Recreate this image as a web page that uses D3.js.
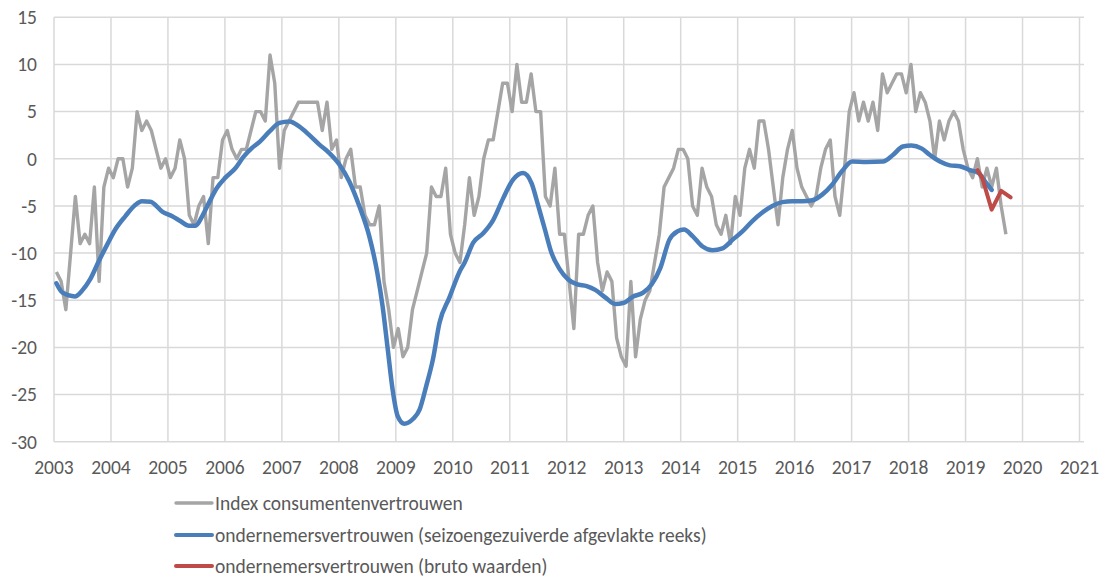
<!DOCTYPE html>
<html>
<head>
<meta charset="utf-8">
<script src="https://cdn.jsdelivr.net/npm/d3@7"></script>
<style>
  body { margin: 0; background: #fff; }
  text { font-family: Carlito, Calibri, "Open Sans", sans-serif; fill: #595959; }
</style>
</head>
<body>
<svg id="chart" width="1107" height="577"></svg>
<script>
// monthly index consumentenvertrouwen, jan 2003 .. sep 2019
let startYear = 2003
let consumer = [
  -12,-13,-16,-10,-4,-9,-8,-9,-3,-13,-3,-1,
  -2,0,0,-3,-1,5,3,4,3,1,-1,0,
  -2,-1,2,0,-6,-7,-5,-4,-9,-2,-2,2,
  3,1,0,1,1,3,5,5,4,11,8,-1,
  3,4,5,6,6,6,6,6,3,6,1,2,
  -2,0,1,-3,-3,-6,-7,-7,-5,-13,-16,-20,
  -18,-21,-20,-16,-14,-12,-10,-3,-4,-4,-1,-8,
  -10,-11,-7,-2,-6,-4,0,2,2,5,8,8,
  5,10,6,6,9,5,5,-4,-5,-1,-8,-8,
  -13,-18,-8,-8,-6,-5,-11,-14,-12,-13,-19,-21,
  -22,-13,-21,-17,-15,-14,-11,-8,-3,-2,-1,1,
  1,0,-5,-6,-1,-3,-4,-7,-8,-6,-9,-4,
  -6,-1,1,-1,4,4,1,-3,-7,-2,1,3,
  -1,-3,-4,-5,-4,-1,1,2,-4,-6,-1,5,
  7,4,6,4,6,3,9,7,8,9,9,7,
  10,5,7,6,4,0,4,2,4,5,4,1,
  -1,-2,0,-3,-1,-3,-1,-5,-8
]

// ondernemersvertrouwen, seizoengezuiverd en afgevlakt (months since jan 2003)
let smoothMonths = [0,1.3,3.9,5.4,7.1,8.9,10.7,12.4,14.5,16.6,18,19.8,22.3,24.4,26.1,27.9,29.3,30.7,32.1,33.8,35.6,37.7,39.4,41.1,42.8,44.9,47,49.1,51.2,53.3,55.4,57.5,59.6,61.7,63.8,65.9,67.6,68.7,69.8,70.8,71.9,73.3,75.1,76.5,77.9,79.3,80.7,82.8,84.9,86,87.8,89.9,92,94.1,96.2,98.3,100.1,101.5,102.9,104.3,106,107.8,109.6,111.7,113.5,115.6,117.7,119.4,121.5,123.6,125.4,127.2,129.1,130.8,132.2,134,136.1,138.2,140.3,142.4,144.5,146.6,148.7,150.8,152.9,155,157.1,159.2,161.3,163.4,165.5,167.6,170.6,174.1,176.2,178.3,180.1,182.2,184,186.1,188.2,190.3,192.4,194.2,195.6,197]
let smoothValues = [-13.2,-14.2,-14.6,-14.0,-12.8,-10.9,-9.1,-7.5,-6.1,-4.9,-4.5,-4.55,-5.6,-6.1,-6.6,-7.1,-7.1,-6.1,-4.7,-3.1,-2.0,-1.0,0.2,1.1,1.8,2.9,3.8,3.95,3.4,2.5,1.5,0.6,-0.6,-2.4,-5.0,-8.2,-12.1,-15.6,-20.2,-24.4,-27.3,-28.1,-27.6,-26.6,-24.1,-21.3,-17.4,-14.7,-12,-11.0,-8.9,-7.9,-6.5,-4.2,-2.2,-1.5,-2.6,-5.0,-7.5,-10.0,-11.7,-12.8,-13.3,-13.5,-13.9,-14.7,-15.4,-15.3,-14.6,-14.2,-13.3,-11.6,-8.6,-7.7,-7.5,-8.2,-9.3,-9.7,-9.5,-8.6,-7.7,-6.6,-5.7,-5.0,-4.6,-4.5,-4.5,-4.4,-3.8,-2.75,-1.3,-0.3,-0.35,-0.3,0.4,1.3,1.4,1.1,0.4,-0.3,-0.7,-0.8,-1.2,-1.5,-2.4,-3.3]

// ondernemersvertrouwen, bruto waarden
let rawMonths = [194,195,197,199,201]
let rawValues = [-1.2,-2.0,-5.4,-3.4,-4.1]

let yTicks = [15,10,5,0,-5,-10,-15,-20,-25,-30]
let xYears = d3.range(2003, 2022)
let legendLabels = [
  'Index consumentenvertrouwen',
  'ondernemersvertrouwen (seizoengezuiverde afgevlakte reeks)',
  'ondernemersvertrouwen (bruto waarden)'
]
let colors = ['#A5A5A5', '#4A7EBB', '#BE4B48']

let svg = d3.select('#chart')
let x = d3.scaleLinear().domain([2003, 2021]).range([54, 1079.5])
let y = d3.scaleLinear().domain([-30, 15]).range([441.7, 17.3])
let monthToYear = m => startYear + (m + 0.5) / 12

// grid
svg.append('g')
  .selectAll('line')
  .data(yTicks)
  .enter().append('line')
  .attr('x1', 54).attr('x2', 1084)
  .attr('y1', d => y(d)).attr('y2', d => y(d))
  .attr('stroke', '#D9D9D9').attr('stroke-width', 1.5)
svg.append('g')
  .selectAll('line')
  .data(xYears)
  .enter().append('line')
  .attr('x1', d => x(d)).attr('x2', d => x(d))
  .attr('y1', y(15)).attr('y2', y(-30))
  .attr('stroke', '#D9D9D9').attr('stroke-width', 1.5)

// axis labels
svg.append('g')
  .selectAll('text')
  .data(yTicks)
  .enter().append('text')
  .attr('x', 37).attr('y', d => y(d))
  .attr('dy', '0.35em')
  .attr('text-anchor', 'end')
  .style('font-size', '19.5px')
  .text(d => d)
svg.append('g')
  .selectAll('text')
  .data(xYears)
  .enter().append('text')
  .attr('x', d => x(d)).attr('y', 467)
  .attr('dy', '0.35em')
  .attr('text-anchor', 'middle')
  .style('font-size', '19.5px')
  .text(d => d)

// series
let greyLine = d3.line()
  .x((d, i) => x(monthToYear(i)))
  .y(d => y(d))
svg.append('path')
  .datum(consumer)
  .attr('d', greyLine)
  .attr('fill', 'none')
  .attr('stroke', colors[0])
  .attr('stroke-width', 3.4)
  .attr('stroke-linejoin', 'round')

let blueLine = d3.line()
  .x(d => x(monthToYear(d[0])))
  .y(d => y(d[1]))
  .curve(d3.curveMonotoneX)
svg.append('path')
  .datum(d3.zip(smoothMonths, smoothValues))
  .attr('d', blueLine)
  .attr('fill', 'none')
  .attr('stroke', colors[1])
  .attr('stroke-width', 4.5)
  .attr('stroke-linejoin', 'round')
  .attr('stroke-linecap', 'round')

let redLine = d3.line()
  .x(d => x(monthToYear(d[0])))
  .y(d => y(d[1]))
svg.append('path')
  .datum(d3.zip(rawMonths, rawValues))
  .attr('d', redLine)
  .attr('fill', 'none')
  .attr('stroke', colors[2])
  .attr('stroke-width', 4)
  .attr('stroke-linejoin', 'round')
  .attr('stroke-linecap', 'round')

// legend
let legend = svg.append('g')
  .selectAll('g')
  .data(legendLabels)
  .enter().append('g')
  .attr('transform', (d, i) => 'translate(0,' + [503, 535, 566][i] + ')')
legend.append('line')
  .attr('x1', 176).attr('x2', 212)
  .attr('stroke', (d, i) => colors[i])
  .attr('stroke-width', (d, i) => i == 0 ? 3.4 : 4)
  .attr('stroke-linecap', 'round')
legend.append('text')
  .attr('x', 215)
  .attr('dy', '0.35em')
  .style('font-size', '19.5px')
  .text(d => d)
</script>
</body>
</html>
